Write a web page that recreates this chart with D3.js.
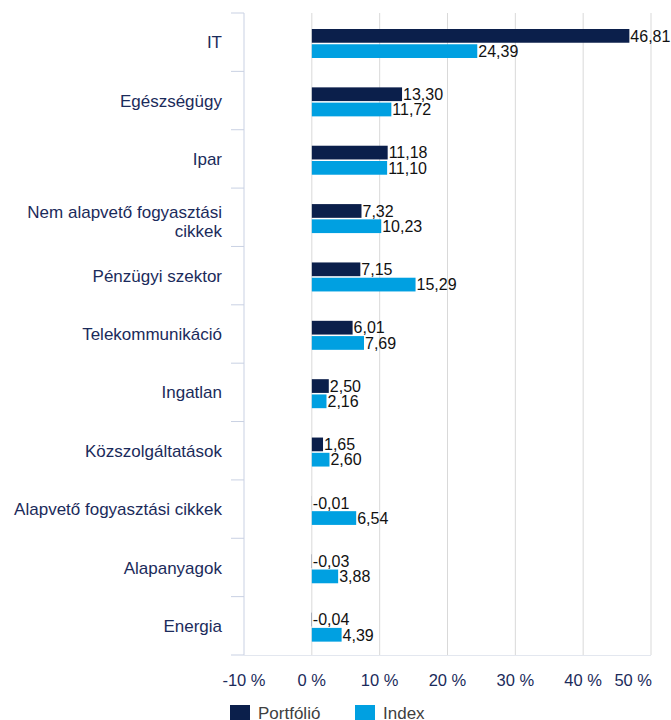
<!DOCTYPE html>
<html>
<head>
<meta charset="utf-8">
<script src="https://cdn.jsdelivr.net/npm/d3@7"></script>
<style>
  body { margin: 0; background: #fff; }
  text { font-family: "Liberation Sans", Arial, sans-serif; }
</style>
</head>
<body>
<div id="chart"></div>
<script>
const width = 671;
const height = 720;

// adatok
const categories = [
  "IT", "Egészségügy", "Ipar", "Nem alapvető fogyasztási cikkek",
  "Pénzügyi szektor", "Telekommunikáció", "Ingatlan", "Közszolgáltatások",
  "Alapvető fogyasztási cikkek", "Alapanyagok", "Energia"
];
const portfolio = [46.81, 13.30, 11.18, 7.32, 7.15, 6.01, 2.50, 1.65, -0.01, -0.03, -0.04];
const index = [24.39, 11.72, 11.10, 10.23, 15.29, 7.69, 2.16, 2.60, 6.54, 3.88, 4.39];
const seriesNames = ["Portfólió", "Index"];
const xTicks = [-10, 0, 10, 20, 30, 40, 50];

const colors = { "Portfólió": "#0b1f4b", "Index": "#00a0e1" };

const svg = d3.select("#chart")
  .append("svg")
  .attr("width", width)
  .attr("height", height);

const x = d3.scaleLinear()
  .domain([-10, 50])
  .range([244, 651]);

const y = d3.scaleBand()
  .domain(categories)
  .range([13, 655]);

const inner = d3.scaleBand()
  .domain(seriesNames)
  .range([16, 45])
  .paddingInner(0.1);

// rácsvonalak
svg.append("g")
  .selectAll("line")
  .data(xTicks.slice(1))
  .join("line")
  .attr("x1", d => x(d)).attr("x2", d => x(d))
  .attr("y1", 13).attr("y2", 655)
  .attr("stroke", "#d9d9d9")
  .attr("stroke-width", 1);

svg.append("line")
  .attr("x1", 244).attr("x2", 651)
  .attr("y1", 655.5).attr("y2", 655.5)
  .attr("stroke", "#e3e7ef");

// bal tengely
const yAxis = svg.append("g");
yAxis.append("line")
  .attr("x1", 244).attr("x2", 244)
  .attr("y1", 13).attr("y2", 655)
  .attr("stroke", "#c9d1e3");
yAxis.selectAll("line.tick")
  .data(categories.map(c => y(c)).concat([655]))
  .join("line")
  .attr("class", "tick")
  .attr("x1", 231).attr("x2", 244)
  .attr("y1", d => d).attr("y2", d => d)
  .attr("stroke", "#c9d1e3");

// oszlopok
const rows = categories.map((c, i) => ({
  cat: c,
  values: [
    { name: "Portfólió", v: portfolio[i] },
    { name: "Index", v: index[i] }
  ]
}));

const groups = svg.append("g")
  .selectAll("g")
  .data(rows)
  .join("g")
  .attr("transform", d => `translate(0,${y(d.cat)})`);

groups.selectAll("rect")
  .data(d => d.values)
  .join("rect")
  .attr("x", d => x(Math.min(0, d.v)))
  .attr("width", d => Math.abs(x(d.v) - x(0)))
  .attr("y", d => inner(d.name))
  .attr("height", inner.bandwidth())
  .attr("fill", d => colors[d.name]);

const fmt = v => d3.format(".2f")(v).replace(".", ",").replace("−", "-");

groups.selectAll("text")
  .data(d => d.values)
  .join("text")
  .attr("x", d => x(Math.max(0, d.v)) + 1)
  .attr("y", d => inner(d.name) + inner.bandwidth() / 2)
  .attr("dy", "0.36em")
  .attr("font-size", 16)
  .attr("fill", "#111")
  .text(d => fmt(d.v));

// kategória feliratok
function wrap(str, maxW) {
  const words = str.split(" ");
  const lines = [];
  let line = "";
  const tmp = svg.append("text").attr("font-size", 17);
  words.forEach(w => {
    const test = line ? line + " " + w : w;
    tmp.text(test);
    if (tmp.node().getComputedTextLength() > maxW && line) {
      lines.push(line);
      line = w;
    } else {
      line = test;
    }
  });
  lines.push(line);
  tmp.remove();
  return lines;
}

const labels = svg.append("g")
  .selectAll("text")
  .data(categories)
  .join("text")
  .attr("text-anchor", "end")
  .attr("font-size", 17)
  .attr("fill", "#1b2b5b");

labels.each(function (c) {
  const lines = wrap(c, 220);
  const cy = y(c) + y.bandwidth() / 2 + (lines.length > 1 ? 4 : 0);
  const lh = 19;
  d3.select(this).selectAll("tspan")
    .data(lines)
    .join("tspan")
    .attr("x", 222)
    .attr("y", (d, i) => cy + (i - (lines.length - 1) / 2) * lh)
    .attr("dy", "0.36em")
    .text(d => d);
});

// x tengely feliratok
svg.append("g")
  .selectAll("text")
  .data(xTicks)
  .join("text")
  .attr("x", (d, i) => i === xTicks.length - 1 ? x(d) + 1 : x(d))
  .attr("y", 686)
  .attr("text-anchor", (d, i) => i === xTicks.length - 1 ? "end" : "middle")
  .attr("font-size", 16.5)
  .attr("fill", "#1b2b5b")
  .text(d => `${d} %`);

// jelmagyarázat
const legend = svg.append("g")
  .selectAll("g")
  .data(seriesNames)
  .join("g")
  .attr("transform", (d, i) => `translate(${230 + i * 125},705)`);

legend.append("rect")
  .attr("width", 20)
  .attr("height", 15)
  .attr("fill", d => colors[d]);

legend.append("text")
  .attr("x", 28)
  .attr("y", 7.5)
  .attr("dy", "0.36em")
  .attr("font-size", 17)
  .attr("fill", "#404040")
  .text(d => d);
</script>
</body>
</html>
